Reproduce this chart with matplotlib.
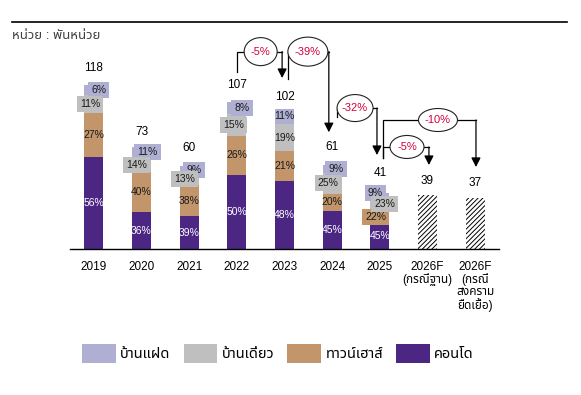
import matplotlib
matplotlib.use('Agg')
import matplotlib.pyplot as plt
from matplotlib import font_manager
from matplotlib.ft2font import FT2Font
from matplotlib.patches import Ellipse, Patch
from matplotlib.lines import Line2D
import numpy as np

# ---------------- data ----------------
categories = ['2019', '2020', '2021', '2022', '2023', '2024', '2025',
              '2026F\n(กรณีฐาน)', '2026F\n(กรณี\nสงคราม\nยืดเยื้อ)']
totals = [118, 73, 60, 107, 102, 61, 41, 39, 37]

# share of each housing type (%), actual years only
condo_pct = [56, 36, 39, 50, 48, 45, 45]
townhouse_pct = [27, 40, 38, 26, 21, 20, 22]
detached_pct = [11, 14, 13, 15, 19, 25, 23]
semi_pct = [6, 11, 9, 8, 11, 9, 9]

series_names = ['คอนโด', 'ทาวน์เฮาส์', 'บ้านเดี่ยว', 'บ้านแฝด']
unit_text = 'หน่วย : พันหน่วย'

growth_labels = ['-5%', '-39%', '-32%', '-5%', '-10%']
growth_from = [3, 4, 5, 6, 6]
growth_to = [4, 5, 6, 7, 8]

# ---------------- styling ----------------
colors = ['#4b2683', '#c2956b', '#bfbfbf', '#afafd3']
text_colors = ['white', '#1a1a1a', '#1a1a1a', '#1a1a1a']
label_z = [5, 6, 8, 7]

# label offsets in pixels (dx right, dy up), per series and year
lab_dx = [[0] * 7,
          [0, 0, 0, 0, 0, 0, -4],
          [-4, -5, -4.5, -3, 0, -4, 5],
          [5, 6, 5, 5, 0, 4, -4.5]]
lab_dy = [[0] * 7,
          [0] * 7,
          [0] * 7,
          [0, 0, 0, 0, 0, 0, 2.5]]
total_pad = [17, 14.5, 18.5, 17, 12, 18, 20, 14, 14.6]

# connectors: x0_off, y0_gap, level, x1_off, y1_gap, ell_dx, ell_w_px, ell_h_px
conn_layout = [
    (0.0, 20, 142, -0.05, 21, 0.0, 33, 28),
    (0.07, 20, 142, -0.07, 23, -0.01, 40, 29),
    (0.1, 34, 101.4, -0.06, 26.6, -0.02, 36, 27),
    (0.066, 24.5, 73.4, 0.03, 21.4, 0.07, 34, 23),
    (0.066, 24.5, 92.8, 0.017, 22, 0.22, 39, 23),
]


def find_thai_font():
    found = []
    for f in font_manager.fontManager.ttflist:
        try:
            if 0x0E01 in FT2Font(f.fname).get_charmap():
                found.append(f.name)
        except Exception:
            continue
    for pref in ['Tahoma', 'Noto Sans Thai', 'Noto Sans Thai UI', 'Loma', 'Garuda',
                 'Sarabun', 'Kinnari', 'Norasi']:
        if pref in found:
            return pref
    return found[0] if found else None


thai = find_thai_font()
fam = ['Liberation Sans']
if thai:
    fam.append(thai)
fam.append('DejaVu Sans')
plt.rcParams['font.family'] = fam
plt.rcParams['hatch.linewidth'] = 0.7

PX_X = 429 / 9.0   # pixels per category
PX_Y = 1.39        # pixels per unit
PT = 0.72          # points per pixel at 100 dpi

fig = plt.figure(figsize=(5.81, 3.95), dpi=100)
ax = fig.add_axes([70 / 581, 1 - 249 / 395, 429 / 581, 227 / 395])
ax.set_xlim(-0.5, 8.5)
ax.set_ylim(0, 227 / PX_Y)

x = np.arange(len(categories))
xa = x[:7]
tot_a = np.array(totals[:7], dtype=float)
shares = [condo_pct, townhouse_pct, detached_pct, semi_pct]
width = 0.4

bottom = np.zeros(7)
for k, pct in enumerate(shares):
    vals = tot_a * np.array(pct) / 100.0
    ax.bar(xa, vals, width, bottom=bottom, color=colors[k], linewidth=0, zorder=2)
    for i in range(7):
        dx, dy = lab_dx[k][i], lab_dy[k][i]
        box = None
        if dx != 0 or dy != 0:
            box = dict(boxstyle='square,pad=0.3', fc=colors[k], ec='none')
        ax.annotate(f'{pct[i]}%', (xa[i], bottom[i] + vals[i] / 2),
                    xytext=(dx * PT, dy * PT), textcoords='offset points',
                    ha='center', va='center', fontsize=7.5,
                    color=text_colors[k], bbox=box, zorder=label_z[k])
    bottom += vals

# forecast bars
ax.bar(x[7:], totals[7:], width, color='white', hatch='///////',
       edgecolor='black', linewidth=0, zorder=2)

tops = list(bottom) + totals[7:]
for i, t in enumerate(totals):
    ax.annotate(str(t), (x[i], tops[i]), xytext=(0, total_pad[i] * PT),
                textcoords='offset points', ha='center', va='center',
                fontsize=8.5, color='black')

# growth connectors
for lab, a, b, lay in zip(growth_labels, growth_from, growth_to, conn_layout):
    x0o, g0, lev, x1o, g1, edx, ew, eh = lay
    x0 = a + x0o
    x1 = b + x1o
    y0 = totals[a] + g0
    y1 = totals[b] + g1
    ax.plot([x0, x0, x1], [y0, lev, lev], color='black', lw=0.9,
            zorder=9, clip_on=False, solid_joinstyle='miter')
    ax.annotate('', xy=(x1, y1), xytext=(x1, lev),
                arrowprops=dict(arrowstyle='-|>,head_length=0.55,head_width=0.28',
                                color='black', lw=0.9, shrinkA=0, shrinkB=0),
                zorder=9)
    ex = (a + b) / 2.0 + edx
    ell = Ellipse((ex, lev), ew / PX_X, eh / PX_Y, facecolor='white',
                  edgecolor='#222222', lw=0.8, zorder=10, clip_on=False)
    ax.add_patch(ell)
    ax.text(ex, lev, lab, ha='center', va='center', fontsize=8,
            color='#d6003c', zorder=11)

ax.set_xticks(x)
ax.set_xticklabels(categories, fontsize=8.5, linespacing=1.0)
ax.tick_params(axis='x', length=0, pad=9)
ax.set_yticks([])
for s in ['top', 'left', 'right']:
    ax.spines[s].set_visible(False)
ax.spines['bottom'].set_linewidth(1.0)
ax.spines['bottom'].set_zorder(3)

# header line and unit text
fig.add_artist(Line2D([12 / 581, 567 / 581], [1 - 22 / 395, 1 - 22 / 395],
                      color='black', lw=1.2))
fig.text(12 / 581, 1 - 36 / 395, unit_text, fontsize=9.5, color='#404040',
         ha='left', va='center')

# legend (reverse of stacking order)
handles = [Patch(facecolor=colors[k], edgecolor='none') for k in [3, 2, 1, 0]]
labels = [series_names[k] for k in [3, 2, 1, 0]]
fig.legend(handles, labels, loc='center', bbox_to_anchor=(278 / 581, 1 - 353.5 / 395),
           ncol=4, frameon=False, fontsize=10.5, handlelength=2.3, handleheight=1.7,
           handletextpad=0.3, columnspacing=0.9)

fig.savefig('out.png', dpi=100)
